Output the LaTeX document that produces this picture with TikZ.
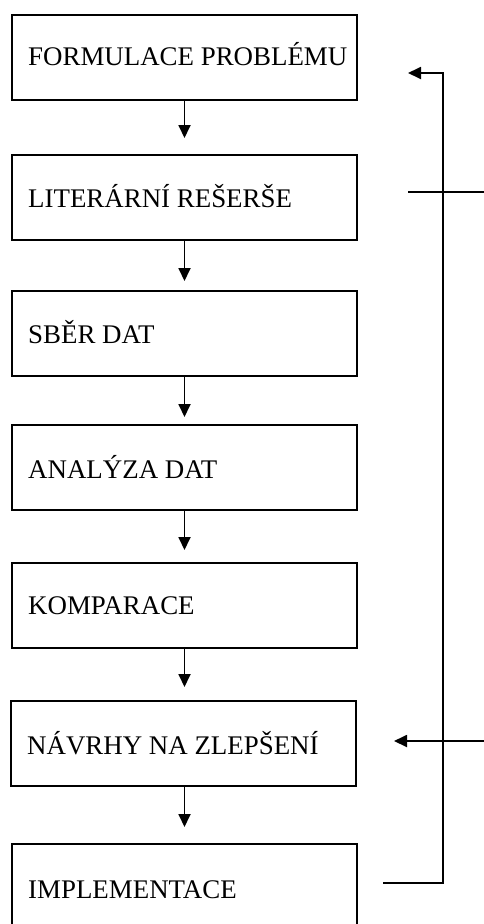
\documentclass[tikz,border=0pt]{standalone}
\usepackage{fontspec}
\setmainfont{Liberation Serif}
\usetikzlibrary{arrows.meta}
\begin{document}
\begin{tikzpicture}[x=1pt,y=-1pt,
  stepbox/.style={draw, line width=2pt, minimum width=345pt, minimum height=85pt, inner sep=0pt, anchor=north west},
  lbl/.style={anchor=base west, inner sep=0pt, font=\fontsize{26.9}{30}\selectfont},
  arr/.style={line width=1.8pt, -{Triangle[length=13pt,width=12pt]}},
  ln/.style={line width=1.8pt, line join=miter}]
\useasboundingbox (0,0) rectangle (484,924);
\node[stepbox] (b1) at (11,13.5) {};
\node[stepbox] (b2) at (11,154) {};
\node[stepbox] (b3) at (11,290) {};
\node[stepbox] (b4) at (11,424) {};
\node[stepbox] (b5) at (11,562) {};
\node[stepbox] (b6) at (10,700) {};
\node[stepbox] (b7) at (11,843) {};
\node[lbl] (t1) at ([xshift=17pt,yshift=-52pt]b1.north west) {FORMULACE PROBLÉMU};
\node[lbl] (t2) at ([xshift=17pt,yshift=-53pt]b2.north west) {LITERÁRNÍ REŠERŠE};
\node[lbl] (t3) at ([xshift=17pt,yshift=-53pt]b3.north west) {SBĚR DAT};
\node[lbl] (t4) at ([xshift=17pt,yshift=-54pt]b4.north west) {ANALÝZA DAT};
\node[lbl] (t5) at ([xshift=17pt,yshift=-52pt]b5.north west) {KOMPARACE};
\node[lbl] (t6) at ([xshift=17pt,yshift=-54pt]b6.north west) {NÁVRHY NA ZLEPŠENÍ};
\node[lbl] (t7) at ([xshift=17pt,yshift=-55pt]b7.north west) {IMPLEMENTACE};
\draw[arr, shorten >=16pt] (b1.south) -- (b1.south |- b2.north);
\draw[arr, shorten >=9pt] (b2.south) -- (b2.south |- b3.north);
\draw[arr, shorten >=7pt] (b3.south) -- (b3.south |- b4.north);
\draw[arr, shorten >=12pt] (b4.south) -- (b4.south |- b5.north);
\draw[arr, shorten >=13pt] (b5.south) -- (b5.south |- b6.north);
\draw[arr, shorten >=16pt] (b5.south |- b6.south) -- (b5.south |- b7.north);
\coordinate (fbStart) at (383,883);
\coordinate (fbLow) at (443,883);
\coordinate (fbHigh) at (443,73);
\coordinate (fbEnd) at (408,73);
\draw[ln, arr] (fbStart) -- (fbLow) -- (fbHigh) -- (fbEnd);
\coordinate (crA) at (408,192);
\coordinate (crB) at (486,192);
\draw[ln] (crA) -- (crB);
\coordinate (inA) at (486,741);
\coordinate (inB) at (394,741);
\draw[arr] (inA) -- (inB);
\end{tikzpicture}
\end{document}
